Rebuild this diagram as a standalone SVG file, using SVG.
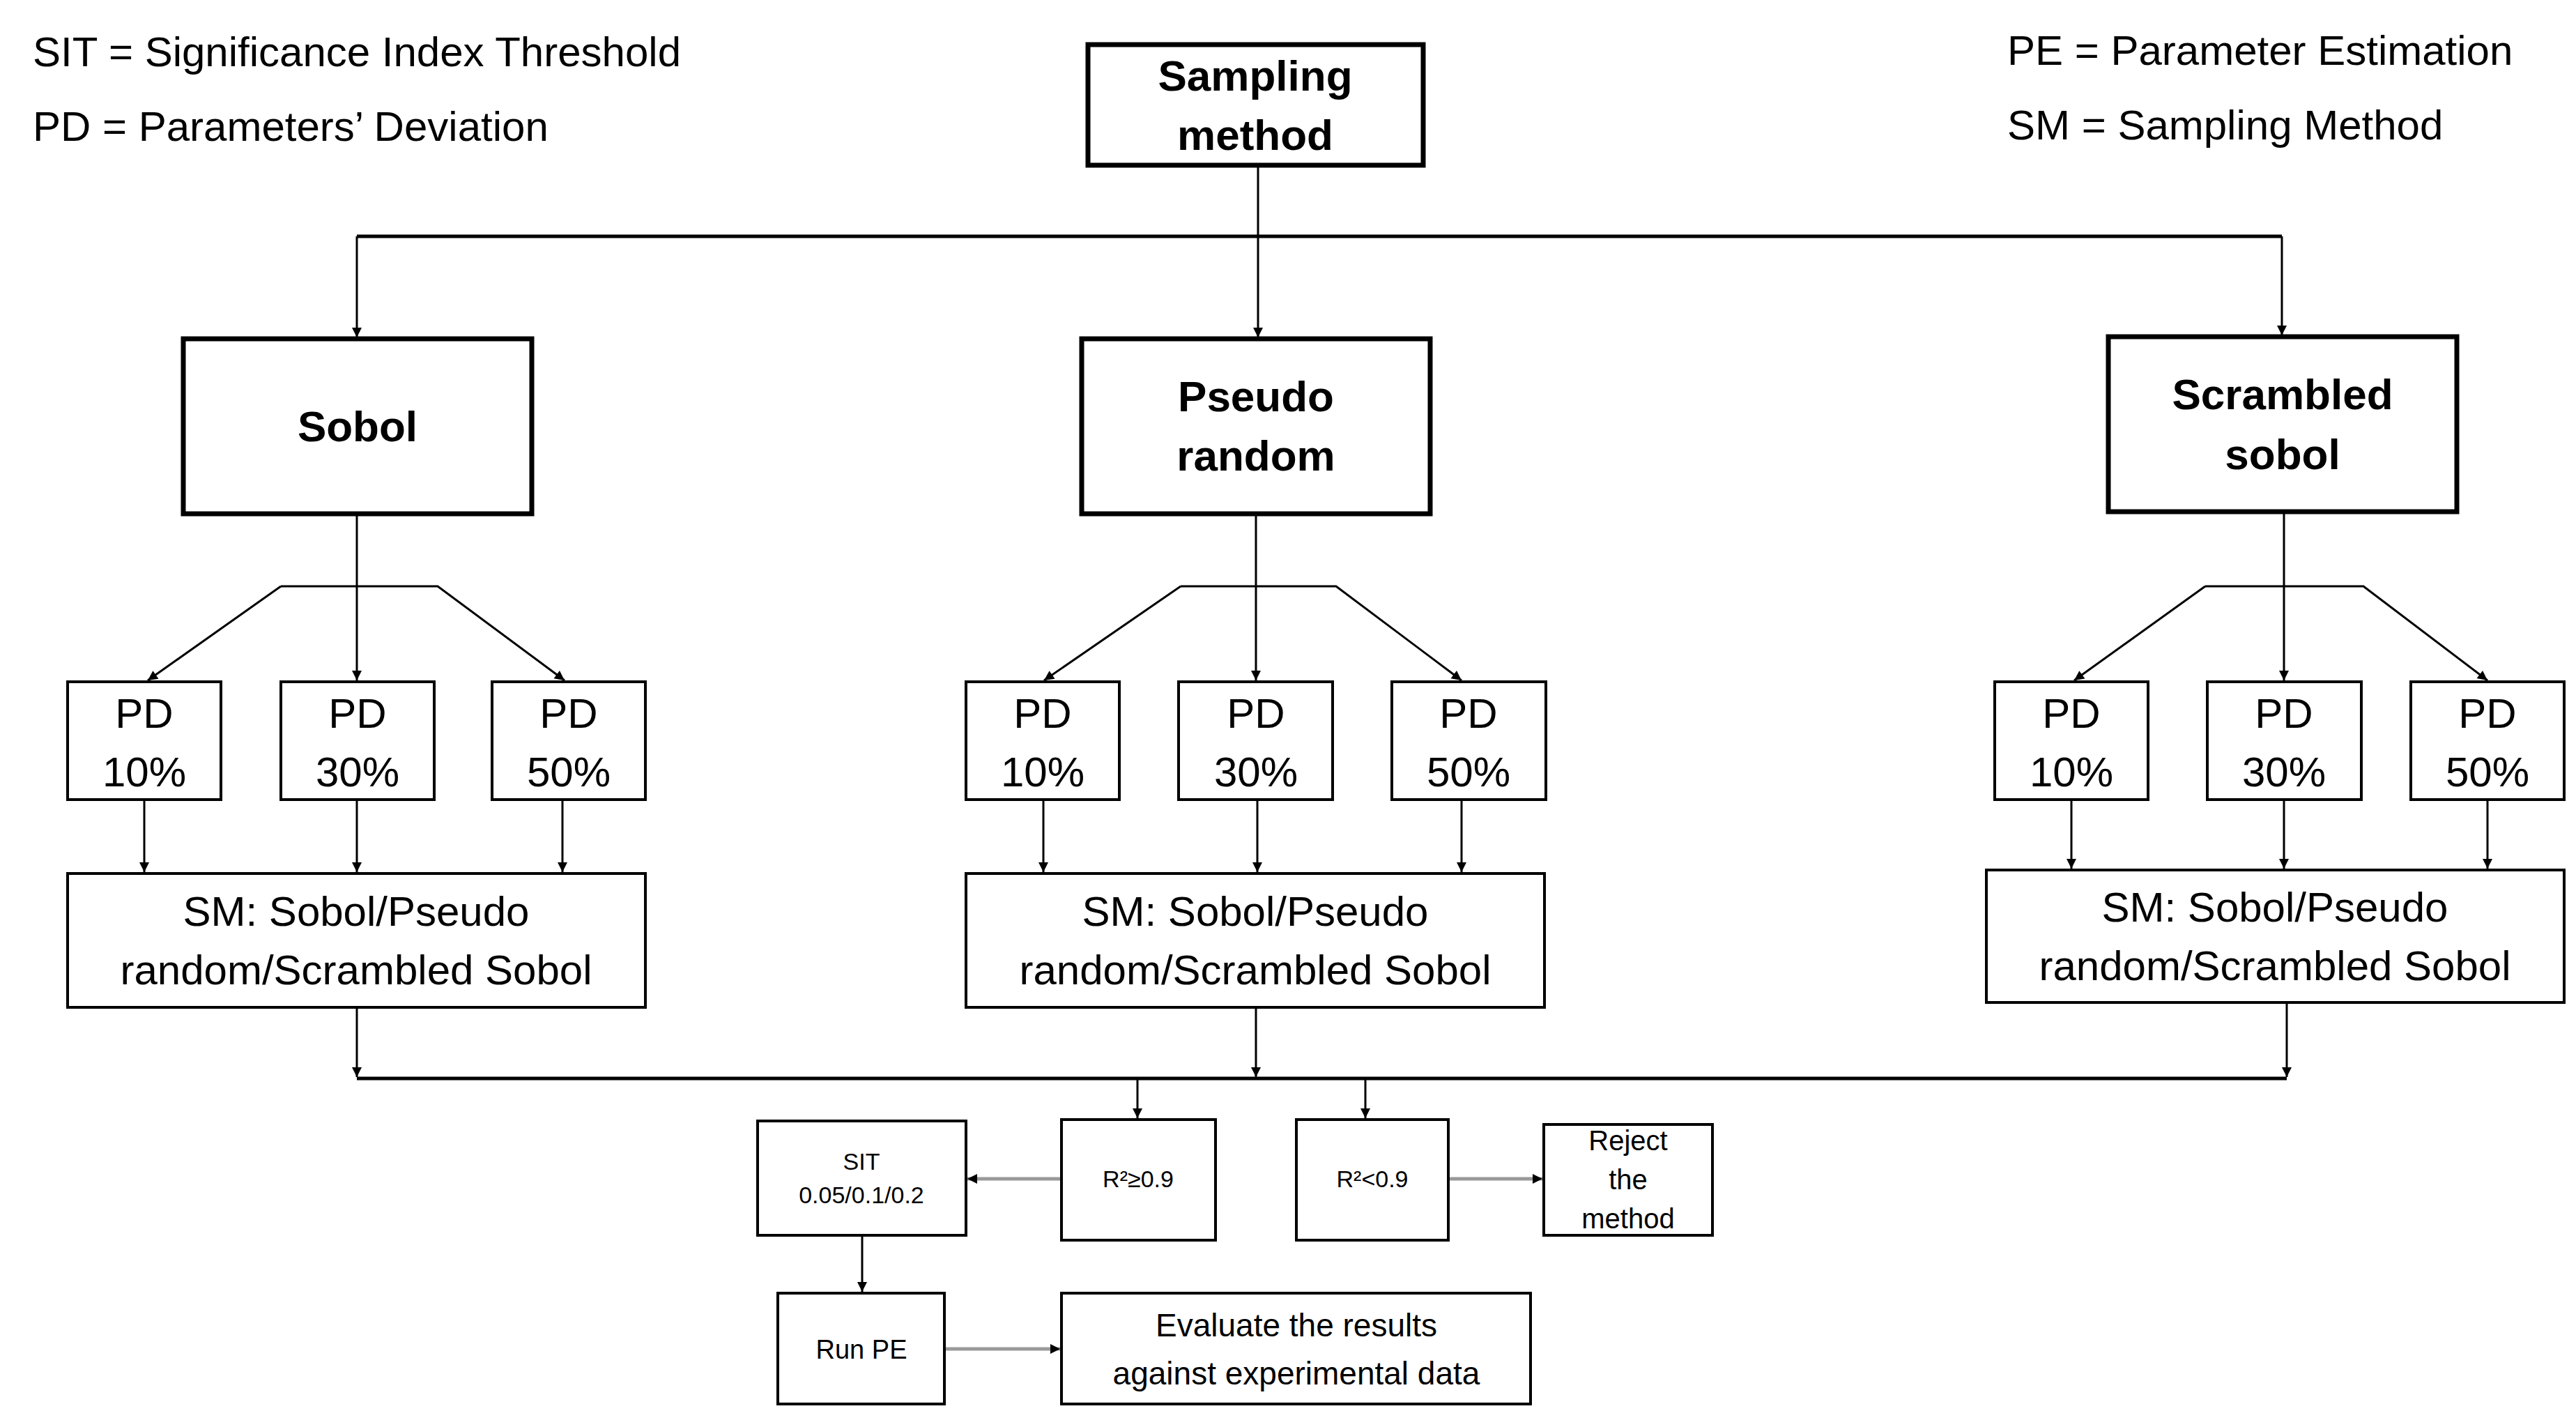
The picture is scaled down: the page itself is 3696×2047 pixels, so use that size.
<svg xmlns="http://www.w3.org/2000/svg" width="3696" height="2047" viewBox="0 0 3696 2047">
<style>
text{font-family:"Liberation Sans",Arial,sans-serif;fill:#000;text-anchor:middle}
.leg{font-size:60px;text-anchor:start}
.big rect{fill:#fff;stroke:#000;stroke-width:7}
.big text{font-size:62px;font-weight:bold}
.pd rect,.sm rect,.sm2 rect{fill:#fff;stroke:#000;stroke-width:4}
.pd text,.sm text{font-size:60px}
.sm2 text{font-size:34px}
.c line,.c polyline{stroke:#000;stroke-width:3;fill:none}
.c .thick{stroke-width:5}
.c .grey{stroke:#999;stroke-width:5}
</style>
<defs>
<marker id="a" viewBox="0 0 10 10" refX="10" refY="5" markerWidth="7" markerHeight="7" markerUnits="userSpaceOnUse" orient="auto" style="overflow:visible"><path d="M0,0L10,5L0,10Z" fill="#000" transform="scale(2)" transform-origin="10 5"/></marker>
</defs>
<g id="legend">
<text class="leg" x="47" y="95">SIT = Significance Index Threshold</text>
<text class="leg" x="47" y="202">PD = Parameters’ Deviation</text>
<text class="leg" x="2880" y="93">PE = Parameter Estimation</text>
<text class="leg" x="2880" y="200">SM = Sampling Method</text>
</g>
<g class="c" id="connectors">
<line x1="1805" y1="237" x2="1805" y2="484" marker-end="url(#a)"/>
<polyline class="thick" points="512,339 3274,339"/>
<line x1="512" y1="339" x2="512" y2="484" marker-end="url(#a)"/>
<line x1="3274" y1="339" x2="3274" y2="481" marker-end="url(#a)"/>
<line x1="512" y1="737" x2="512" y2="976" marker-end="url(#a)"/>
<polyline points="403,841 628,841 810,976" marker-end="url(#a)"/>
<line x1="403" y1="841" x2="212" y2="976" marker-end="url(#a)"/>
<line x1="1802" y1="737" x2="1802" y2="976" marker-end="url(#a)"/>
<polyline points="1694,841 1917,841 2097,976" marker-end="url(#a)"/>
<line x1="1694" y1="841" x2="1498" y2="976" marker-end="url(#a)"/>
<line x1="3277" y1="734" x2="3277" y2="976" marker-end="url(#a)"/>
<polyline points="3164,841 3391,841 3569,976" marker-end="url(#a)"/>
<line x1="3164" y1="841" x2="2976" y2="976" marker-end="url(#a)"/>
<line x1="207" y1="1147" x2="207" y2="1251" marker-end="url(#a)"/>
<line x1="512" y1="1147" x2="512" y2="1251" marker-end="url(#a)"/>
<line x1="807" y1="1147" x2="807" y2="1251" marker-end="url(#a)"/>
<line x1="1497" y1="1147" x2="1497" y2="1251" marker-end="url(#a)"/>
<line x1="1804" y1="1147" x2="1804" y2="1251" marker-end="url(#a)"/>
<line x1="2097" y1="1147" x2="2097" y2="1251" marker-end="url(#a)"/>
<line x1="2972" y1="1147" x2="2972" y2="1246" marker-end="url(#a)"/>
<line x1="3277" y1="1147" x2="3277" y2="1246" marker-end="url(#a)"/>
<line x1="3569" y1="1147" x2="3569" y2="1246" marker-end="url(#a)"/>
<line x1="512" y1="1445" x2="512" y2="1545" marker-end="url(#a)"/>
<line x1="1802" y1="1445" x2="1802" y2="1545" marker-end="url(#a)"/>
<line x1="3281" y1="1438" x2="3281" y2="1545" marker-end="url(#a)"/>
<polyline class="thick" points="512,1547 3281,1547"/>
<line x1="1632" y1="1547" x2="1632" y2="1604" marker-end="url(#a)"/>
<line x1="1959" y1="1547" x2="1959" y2="1604" marker-end="url(#a)"/>
<line class="grey" x1="1523" y1="1691" x2="1388" y2="1691" marker-end="url(#a)"/>
<line class="grey" x1="2078" y1="1691" x2="2213" y2="1691" marker-end="url(#a)"/>
<line x1="1237" y1="1772" x2="1237" y2="1853" marker-end="url(#a)"/>
<line class="grey" x1="1355" y1="1935" x2="1521" y2="1935" marker-end="url(#a)"/>
</g>
<g class="big" id="sampling"><rect x="1561" y="64" width="481" height="173"/><text x="1801" y="130">Sampling</text><text x="1801" y="215">method</text></g>
<g class="big" id="sobol"><rect x="263" y="486" width="500" height="251"/><text x="513" y="633">Sobol</text></g>
<g class="big" id="pseudo"><rect x="1552" y="486" width="500" height="251"/><text x="1802" y="590">Pseudo</text><text x="1802" y="675">random</text></g>
<g class="big" id="scrambled"><rect x="3025" y="483" width="500" height="251"/><text x="3275" y="587">Scrambled</text><text x="3275" y="673">sobol</text></g>
<g class="pd" id="pd1"><rect x="97" y="978" width="220" height="169"/><text x="207" y="1044">PD</text><text x="207" y="1128">10%</text></g>
<g class="pd" id="pd2"><rect x="403" y="978" width="220" height="169"/><text x="513" y="1044">PD</text><text x="513" y="1128">30%</text></g>
<g class="pd" id="pd3"><rect x="706" y="978" width="220" height="169"/><text x="816" y="1044">PD</text><text x="816" y="1128">50%</text></g>
<g class="pd" id="pd4"><rect x="1386" y="978" width="220" height="169"/><text x="1496" y="1044">PD</text><text x="1496" y="1128">10%</text></g>
<g class="pd" id="pd5"><rect x="1691" y="978" width="221" height="169"/><text x="1802" y="1044">PD</text><text x="1802" y="1128">30%</text></g>
<g class="pd" id="pd6"><rect x="1997" y="978" width="221" height="169"/><text x="2107" y="1044">PD</text><text x="2107" y="1128">50%</text></g>
<g class="pd" id="pd7"><rect x="2862" y="978" width="220" height="169"/><text x="2972" y="1044">PD</text><text x="2972" y="1128">10%</text></g>
<g class="pd" id="pd8"><rect x="3167" y="978" width="221" height="169"/><text x="3277" y="1044">PD</text><text x="3277" y="1128">30%</text></g>
<g class="pd" id="pd9"><rect x="3459" y="978" width="220" height="169"/><text x="3569" y="1044">PD</text><text x="3569" y="1128">50%</text></g>
<g class="sm" id="sm1"><rect x="97" y="1253" width="829" height="192"/><text x="511" y="1328">SM: Sobol/Pseudo</text><text x="511" y="1412">random/Scrambled Sobol</text></g>
<g class="sm" id="sm2"><rect x="1386" y="1253" width="830" height="192"/><text x="1801" y="1328">SM: Sobol/Pseudo</text><text x="1801" y="1412">random/Scrambled Sobol</text></g>
<g class="sm" id="sm3"><rect x="2850" y="1248" width="829" height="190"/><text x="3264" y="1322">SM: Sobol/Pseudo</text><text x="3264" y="1406">random/Scrambled Sobol</text></g>
<g class="sm2" id="sit"><rect x="1087" y="1608" width="299" height="164"/><text x="1236" y="1678">SIT</text><text x="1236" y="1726">0.05/0.1/0.2</text></g>
<g class="sm2" id="rge"><rect x="1523" y="1606" width="221" height="173"/><text x="1633" y="1703">R²≥0.9</text></g>
<g class="sm2" id="rlt"><rect x="1860" y="1606" width="218" height="173"/><text x="1969" y="1703">R²&lt;0.9</text></g>
<g class="sm2" id="reject"><rect x="2215" y="1613" width="242" height="159"/><text x="2336" y="1650" style="font-size:40px">Reject</text><text x="2336" y="1706" style="font-size:40px">the</text><text x="2336" y="1762" style="font-size:40px">method</text></g>
<g class="sm2" id="runpe"><rect x="1116" y="1855" width="239" height="159"/><text x="1236" y="1949" style="font-size:38px">Run PE</text></g>
<g class="sm2" id="evaluate"><rect x="1523" y="1855" width="673" height="159"/><text x="1860" y="1917" style="font-size:46px">Evaluate the results</text><text x="1860" y="1986" style="font-size:46px">against experimental data</text></g>
</svg>
